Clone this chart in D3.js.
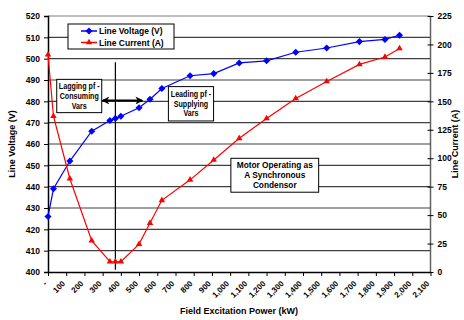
<!DOCTYPE html>
<html><head><meta charset="utf-8">
<script src="https://cdn.jsdelivr.net/npm/d3@7"></script>
<style>
html,body{margin:0;padding:0;background:#fff;}
svg text{font-family:"Liberation Sans",Arial,sans-serif;font-weight:bold;fill:#000;}
</style></head>
<body><svg id="c" width="464" height="320"></svg>
<script>
const excitation = [0, 30, 120, 240, 340, 370, 400, 500, 560, 625, 780, 910, 1050, 1200, 1360, 1530, 1710, 1850, 1930];
const voltage = [426, 439, 452, 466, 471, 472, 473, 477, 481, 486, 492, 493, 498, 499, 503, 505, 508, 509, 511];
const current = [191, 137, 82, 27.5, 9, 9, 9, 24.5, 43, 63, 81, 98.5, 117.5, 135, 152.5, 167.5, 182.5, 189, 196.5];
const xTicks = d3.range(0, 2101, 100);
const yLeftTicks = d3.range(400, 521, 10);
const yRightTicks = d3.range(0, 226, 25);
const seriesNames = ["Line Voltage (V)", "Line Current (A)"];
const colors = ["#0000ff", "#ff0000"];

const svg = d3.select("#c");
const L = 48, R = 430.5, T = 16, B = 272;
const x = d3.scaleLinear().domain([0, 2100]).range([L, R]);
const yV = d3.scaleLinear().domain([400, 520]).range([B, T]);
const yA = d3.scaleLinear().domain([0, 225]).range([B, T]);

// gridlines
svg.append("g").selectAll("line").data(yLeftTicks.slice(1)).join("line")
  .attr("x1", L).attr("x2", R).attr("y1", d => yV(d)).attr("y2", d => yV(d))
  .attr("stroke", d => d === 520 ? "#808080" : "#404040").attr("stroke-width", 1.2);
// right axis line
svg.append("line").attr("x1", R).attr("x2", R).attr("y1", T).attr("y2", B).attr("stroke", "#606060").attr("stroke-width", 1.5);

const fmtX = d => d === 0 ? "-" : d3.format(",")(d);

// left axis
const gl = svg.append("g").attr("transform", `translate(${L},0)`)
  .call(d3.axisLeft(yV).tickValues(yLeftTicks).tickSize(4).tickPadding(4));
gl.select(".domain").attr("stroke", "#000").attr("stroke-width", 1.5);
gl.selectAll("text").style("font-size", "8.5px").style("font-family", "Liberation Sans, Arial").style("font-weight", "bold");

// right axis
const gr = svg.append("g").attr("transform", `translate(${R},0)`)
  .call(d3.axisRight(yA).tickValues(yRightTicks).tickSize(3).tickPadding(4));
gr.select(".domain").remove();
gr.selectAll("line").attr("x1", -3).attr("x2", 3).attr("stroke", "#000");
gr.selectAll("text").style("font-size", "8.5px").style("font-family", "Liberation Sans, Arial").style("font-weight", "bold");

// bottom axis
const gb = svg.append("g").attr("transform", `translate(0,${B})`)
  .call(d3.axisBottom(x).tickValues(xTicks).tickFormat(fmtX).tickSize(4).tickSizeOuter(0));
gb.select(".domain").attr("stroke", "#000").attr("stroke-width", 1.5);
gb.selectAll("text").style("font-size", "8px").style("font-family", "Liberation Sans, Arial").style("font-weight", "bold")
  .attr("text-anchor", "end").attr("dy", null).attr("y", 0)
  .attr("transform", "translate(-1,12) rotate(-45)");

// axis titles
svg.append("text").attr("transform", `translate(15,${(T+B)/2}) rotate(-90)`).attr("text-anchor", "middle")
  .style("font-size", "9px").text("Line Voltage (V)");
svg.append("text").attr("transform", `translate(458,${(T+B)/2}) rotate(-90)`).attr("text-anchor", "middle")
  .style("font-size", "9px").text("Line Current (A)");
svg.append("text").attr("x", 239).attr("y", 314).attr("text-anchor", "middle")
  .style("font-size", "9px").text("Field Excitation Power (kW)");

// vertical divider
svg.append("line").attr("x1", x(370)).attr("x2", x(370)).attr("y1", yV(498.3)).attr("y2", yV(401)).attr("stroke", "#000").attr("stroke-width", 1.2);

// series
const vData = excitation.map((e, i) => [e, voltage[i]]);
const aData = excitation.map((e, i) => [e, current[i]]);
svg.append("path").datum(vData).attr("fill", "none").attr("stroke", colors[0]).attr("stroke-width", 1.2)
  .attr("d", d3.line().x(d => x(d[0])).y(d => yV(d[1])));
svg.append("path").datum(aData).attr("fill", "none").attr("stroke", colors[1]).attr("stroke-width", 1.2)
  .attr("d", d3.line().x(d => x(d[0])).y(d => yA(d[1])));
const diamond = d3.symbol().type(d3.symbolDiamond2).size(32);
const tri = d3.symbol().type(d3.symbolTriangle).size(18);
svg.append("g").selectAll("path").data(vData).join("path")
  .attr("d", diamond).attr("fill", colors[0])
  .attr("transform", d => `translate(${x(d[0])},${yV(d[1])})`);
svg.append("g").selectAll("path").data(aData).join("path")
  .attr("d", tri).attr("fill", colors[1])
  .attr("transform", d => `translate(${x(d[0])},${yA(d[1])})`);

// annotation boxes (in data coordinates)
function box(x0, x1, v0, v1, lines, fs, lh, sx) {
  svg.append("rect").attr("x", x(x0)).attr("y", yV(v0)).attr("width", x(x1) - x(x0)).attr("height", yV(v1) - yV(v0))
    .attr("fill", "#fff").attr("stroke", "#000").attr("stroke-width", 1);
  const mid = (x(x0) + x(x1)) / 2;
  const h = yV(v1) - yV(v0);
  const top = yV(v0) + (h - lines.length * lh) / 2 + fs * 0.95;
  lines.forEach((t, i) => svg.append("text")
    .attr("transform", `translate(${mid},${top + i * lh}) scale(${sx},1)`)
    .attr("text-anchor", "middle").style("font-size", fs + "px").text(t));
}
box(48, 295, 490.3, 474.7, ["Lagging pf -", "Consuming", "Vars"], 8.2, 9.6, 0.87);
box(661, 909, 486.9, 470.8, ["Leading pf -", "Supplying", "Vars"], 8.2, 9.6, 0.87);
box(1004, 1486, 453.3, 437.4, ["Motor Operating as", "A Synchronous", "Condensor"], 8.3, 10, 1);

// double arrow
const defs = svg.append("defs");
defs.append("marker").attr("id", "ah").attr("viewBox", "0 0 10 10").attr("refX", 8).attr("refY", 5)
  .attr("markerWidth", 4).attr("markerHeight", 4).attr("orient", "auto-start-reverse")
  .append("path").attr("d", "M0,0 L10,5 L0,10 L3,5 Z").attr("fill", "#000");
svg.append("line").attr("x1", x(302)).attr("x2", x(515)).attr("y1", yV(480.4)).attr("y2", yV(480.4))
  .attr("stroke", "#000").attr("stroke-width", 2)
  .attr("marker-start", "url(#ah)").attr("marker-end", "url(#ah)");

// legend
const lg = svg.append("g").attr("transform", "translate(68,24)");
lg.append("rect").attr("width", 106).attr("height", 25).attr("fill", "#fff").attr("stroke", "#000").attr("stroke-width", 1);
seriesNames.forEach((n, i) => {
  const yy = 7 + i * 11.5;
  lg.append("line").attr("x1", 13).attr("x2", 29).attr("y1", yy).attr("y2", yy).attr("stroke", colors[i]).attr("stroke-width", 1.5);
  lg.append("path").attr("d", i === 0 ? diamond : tri).attr("fill", colors[i]).attr("transform", `translate(21,${yy})`);
  lg.append("text").attr("x", 31).attr("y", yy + 3).style("font-size", "8.5px").text(n);
});
</script></body></html>
